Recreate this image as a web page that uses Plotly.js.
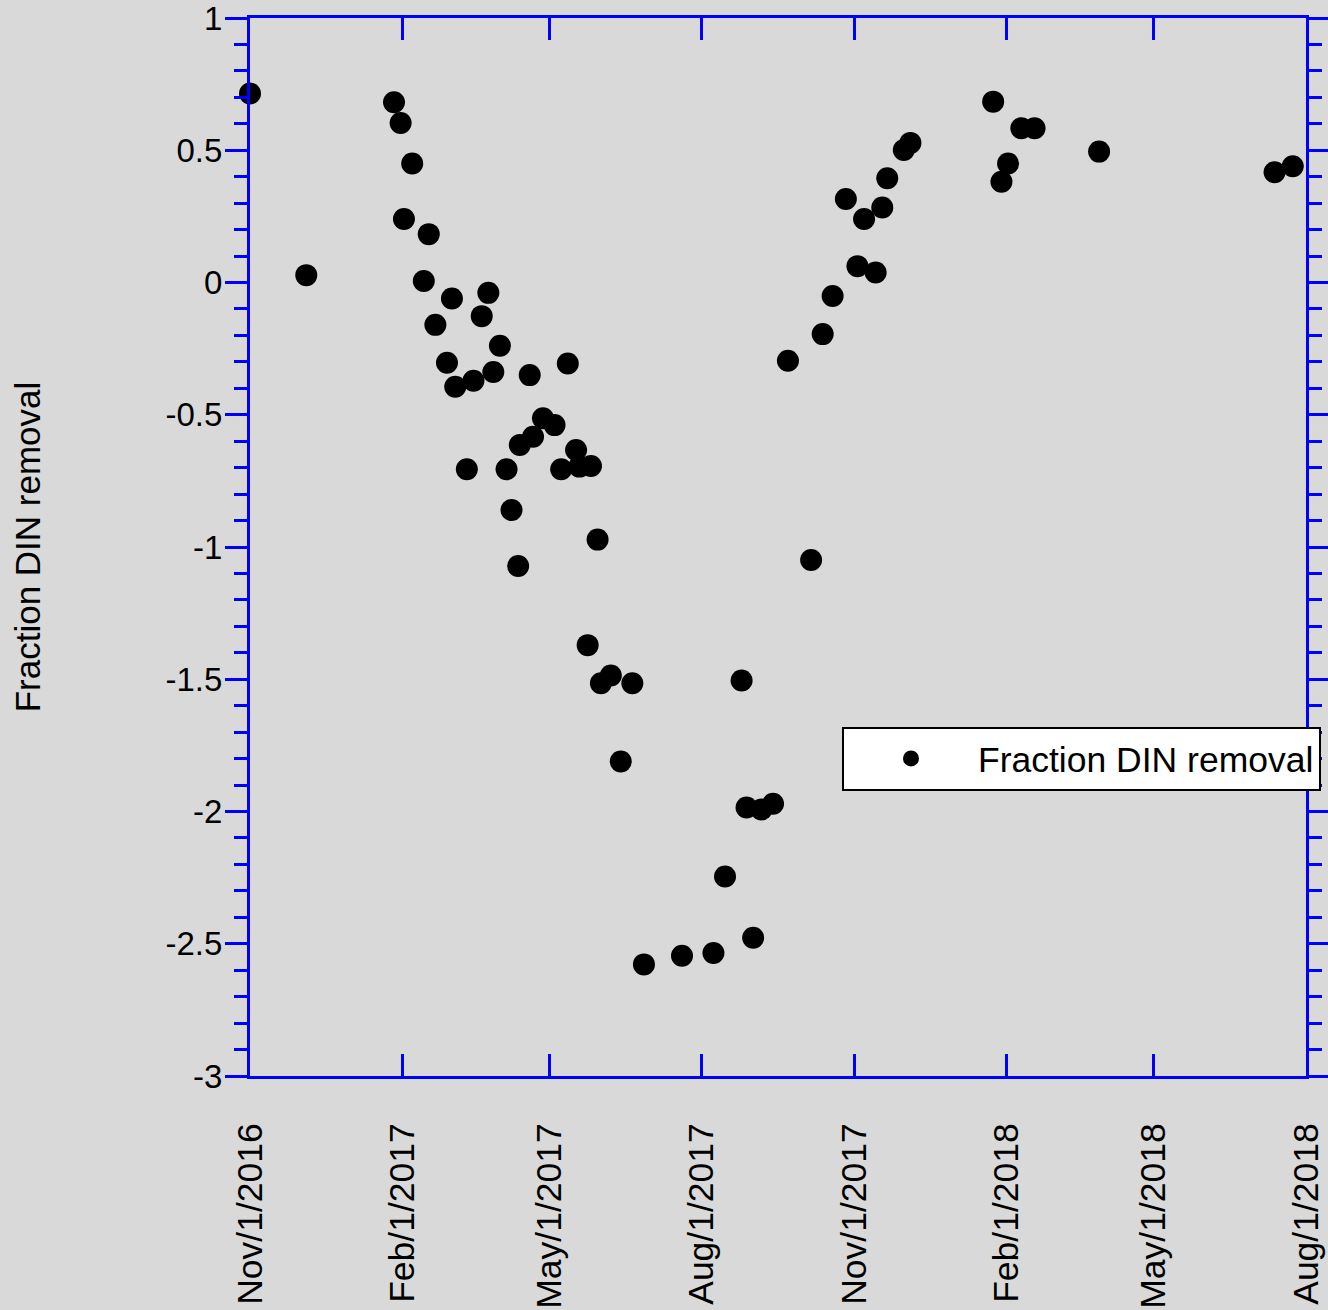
<!DOCTYPE html>
<html>
<head>
<meta charset="utf-8">
<script src="https://cdn.plot.ly/plotly-3.0.1.min.js"></script>
<style>
  html, body { margin: 0; padding: 0; background: #d9d9d9; }
  #chart { width: 1328px; height: 1310px; }
</style>
</head>
<body>
<div id="chart"></div>
<script>
const seriesName = "Fraction DIN removal";

const sampleDates = [
  "2016-11-01", "2016-12-05", "2017-01-27", "2017-01-31", "2017-02-07",
  "2017-02-02", "2017-02-17", "2017-02-14", "2017-02-21", "2017-02-28",
  "2017-03-03", "2017-03-05", "2017-03-16", "2017-03-12", "2017-03-21",
  "2017-03-25", "2017-03-28", "2017-04-01", "2017-04-05", "2017-04-08",
  "2017-04-12", "2017-04-13", "2017-04-19", "2017-04-21", "2017-04-27",
  "2017-05-04", "2017-05-08", "2017-05-12", "2017-05-17", "2017-05-19",
  "2017-05-26", "2017-05-30", "2017-05-24", "2017-06-01", "2017-06-07",
  "2017-06-13", "2017-06-20", "2017-06-27", "2017-07-20", "2017-08-08",
  "2017-08-15", "2017-08-25", "2017-08-28", "2017-09-01", "2017-09-06",
  "2017-09-13", "2017-09-22", "2017-10-06", "2017-10-13", "2017-10-19",
  "2017-10-27", "2017-11-03", "2017-11-07", "2017-11-14", "2017-11-18",
  "2017-11-21", "2017-12-01", "2017-12-05", "2018-01-24", "2018-01-29",
  "2018-02-02", "2018-02-10", "2018-02-18", "2018-03-29", "2018-07-13",
  "2018-07-24"
];

const dinRemoval = [
  0.715, 0.028, 0.682, 0.603, 0.450,
  0.240, 0.183, 0.006, -0.160, -0.303,
  -0.060, -0.394, -0.371, -0.706, -0.127,
  -0.039, -0.338, -0.239, -0.706, -0.860,
  -1.072, -0.614, -0.350, -0.583, -0.513,
  -0.539, -0.706, -0.306, -0.633, -0.696,
  -0.694, -0.972, -1.371, -1.515, -1.486,
  -1.811, -1.515, -2.578, -2.545, -2.535,
  -2.246, -1.505, -1.985, -2.477, -1.992,
  -1.971, -0.296, -1.049, -0.195, -0.051,
  0.316, 0.062, 0.240, 0.038, 0.284,
  0.394, 0.501, 0.528, 0.684, 0.381,
  0.450, 0.583, 0.583, 0.495, 0.417,
  0.440
];

const xTickVals = ["2016-11-01", "2017-02-01", "2017-05-01", "2017-08-01",
                   "2017-11-01", "2018-02-01", "2018-05-01", "2018-08-01"];
const xTickText = ["Nov/1/2016", "Feb/1/2017", "May/1/2017", "Aug/1/2017",
                   "Nov/1/2017", "Feb/1/2018", "May/1/2018", "Aug/1/2018"];

const yTickVals = [1, 0.5, 0, -0.5, -1, -1.5, -2, -2.5, -3];
const yTickText = ["1", "0.5", "0", "-0.5", "-1", "-1.5", "-2", "-2.5", "-3"];

const axisBlue = "#0000ff";
const fontFam = "Liberation Sans, Arial, sans-serif";

const trace = {
  x: sampleDates,
  y: dinRemoval,
  type: "scatter",
  mode: "markers",
  name: seriesName,
  cliponaxis: false,
  marker: { color: "#000000", size: 22, symbol: "circle" },
  hoverinfo: "skip"
};

const layout = {
  width: 1328,
  height: 1310,
  paper_bgcolor: "#d9d9d9",
  plot_bgcolor: "#d9d9d9",
  font: { family: fontFam, color: "#000000", size: 33 },
  margin: { l: 250, r: 22, t: 18, b: 234, pad: 0, autoexpand: false },
  showlegend: true,
  legend: {
    x: 0.5606, y: 0.330, xanchor: "left", yanchor: "top",
    bgcolor: "#ffffff", bordercolor: "#000000", borderwidth: 2,
    font: { family: fontFam, size: 35.5, color: "#000000" },
    itemwidth: 124
  },
  xaxis: {
    type: "date",
    range: ["2016-11-01", "2018-08-01"],
    tickmode: "array",
    tickvals: xTickVals,
    ticktext: xTickText,
    tickangle: -90,
    ticks: "inside",
    ticklen: 22,
    tickwidth: 3,
    tickcolor: axisBlue,
    showline: true,
    linecolor: axisBlue,
    linewidth: 3,
    mirror: "ticks",
    showgrid: false,
    zeroline: false,
    automargin: false,
    ticklabelstandoff: 30,
    ticklabeloverflow: "allow",
    tickfont: { family: fontFam, size: 35.5, color: "#000000" },
    fixedrange: true
  },
  yaxis: {
    range: [-3, 1.0002],
    tickmode: "array",
    tickvals: yTickVals,
    ticktext: yTickText,
    ticks: "outside",
    ticklen: 22,
    tickwidth: 3,
    tickcolor: axisBlue,
    minor: {
      tickmode: "linear", tick0: -3, dtick: 0.1,
      ticks: "outside", ticklen: 13, tickwidth: 3, tickcolor: axisBlue,
      showgrid: false
    },
    showline: true,
    linecolor: axisBlue,
    linewidth: 3,
    mirror: "ticks",
    showgrid: false,
    zeroline: false,
    automargin: false,
    ticklabelstandoff: -4,
    ticklabeloverflow: "allow",
    tickfont: { family: fontFam, size: 33, color: "#000000" },
    title: {
      text: "Fraction DIN removal",
      font: { family: fontFam, size: 35, color: "#000000" },
      standoff: 115
    },
    fixedrange: true
  }
};

Plotly.newPlot("chart", [trace], layout, { displayModeBar: false, staticPlot: true });
</script>
</body>
</html>
